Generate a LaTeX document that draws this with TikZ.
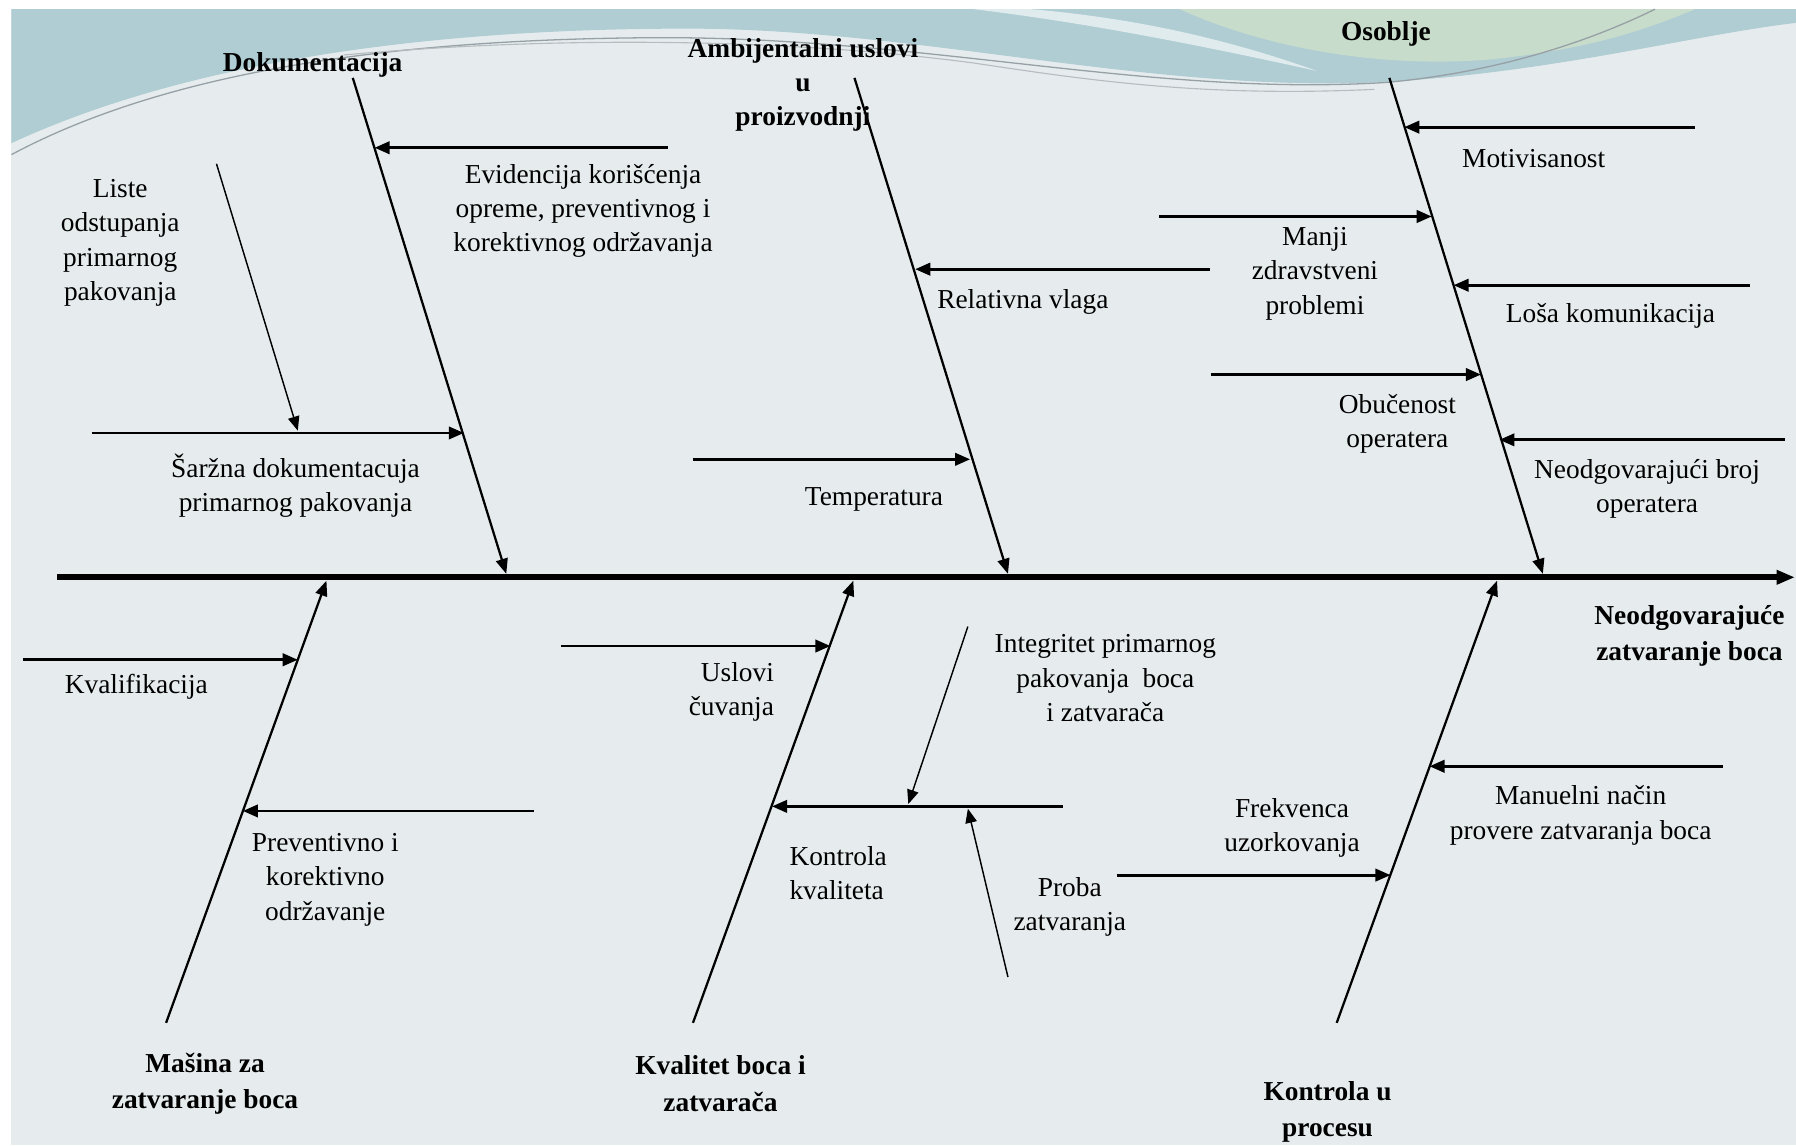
\documentclass[tikz,border=0pt]{standalone}
\usepackage{fontspec}
\setmainfont{Liberation Serif}
\usetikzlibrary{arrows.meta}
\definecolor{bgmain}{RGB}{230,236,238}
\definecolor{bgteal}{RGB}{176,205,211}
\definecolor{bggreen}{RGB}{200,220,203}
\definecolor{bgline}{RGB}{150,160,165}
\begin{document}
\begin{tikzpicture}[x=0.025cm,y=-0.025cm,
  spine/.style={line width=3.5pt,-{Triangle[length=0.4cm,width=0.3cm]}},
  bone/.style={line width=1.4pt},
  bonetip/.style={line width=1.4pt,-{Triangle[length=0.33cm,width=0.26cm]}},
  sub/.style={line width=1.8pt,-{Triangle[length=0.33cm,width=0.27cm]}},
  thinarr/.style={line width=0.9pt,-{Triangle[length=0.31cm,width=0.25cm]}},
  lbl/.style={font=\fontsize{17}{21.3}\selectfont,align=center,inner sep=0pt},
  head/.style={font=\bfseries\fontsize{17}{22.5}\selectfont,align=center,inner sep=0pt}]
% ---------- background ----------
\useasboundingbox (0,0) rectangle (1568,1000);
\fill[white] (0,0) rectangle (1568,1000);
\fill[bgmain] (10,8) rectangle (1568,1000);
\fill[bgteal] (10,8) -- (10,125) .. controls (150,60) and (350,25) .. (600,25)
  .. controls (800,25) and (1000,80) .. (1200,72)
  .. controls (1350,65) and (1480,30) .. (1568,20) -- (1568,8) -- cycle;
\fill[bggreen] (1030,8) .. controls (1100,40) and (1200,60) .. (1300,52)
  .. controls (1400,42) and (1450,20) .. (1480,8) -- cycle;
\fill[white,opacity=0.6] (850,8) .. controls (950,20) and (1050,40) .. (1150,62)
  .. controls (1060,30) and (980,15) .. (900,8) -- cycle;
\draw[bgline,line width=0.8pt] (10,135) .. controls (150,60) and (350,35) .. (560,33)
  .. controls (800,30) and (1000,85) .. (1210,72) .. controls (1320,62) and (1400,30) .. (1445,8);
\draw[bgline!70,line width=0.7pt] (300,48) .. controls (500,30) and (700,35) .. (850,55)
  .. controls (950,70) and (1050,85) .. (1200,78);
% ---------- coordinates ----------
\coordinate (sp0) at (50,504);
\coordinate (sp1) at (1567,504);
\coordinate (dokT) at (308,68);  \coordinate (dokB) at (442,501);
\coordinate (ambT) at (746,68);  \coordinate (ambB) at (880,501);
\coordinate (osoT) at (1213,68); \coordinate (osoB) at (1347,501);
\coordinate (masB) at (145,893); \coordinate (masT) at (285,507);
\coordinate (kvbB) at (605,893); \coordinate (kvbT) at (745,507);
\coordinate (kpB) at (1167,893); \coordinate (kpT) at (1307,507);
% sub-arrow ends
\coordinate (evS) at (583,129);  \coordinate (evE) at (327,129);
\coordinate (saS) at (80,378);   \coordinate (saE) at (405,378);
\coordinate (liS) at (189,143);  \coordinate (liE) at (260,376);
\coordinate (reS) at (1056,235); \coordinate (reE) at (799,235);
\coordinate (teS) at (605,401);  \coordinate (teE) at (847,401);
\coordinate (moS) at (1480,111); \coordinate (moE) at (1226,111);
\coordinate (mzS) at (1012,189); \coordinate (mzE) at (1250,189);
\coordinate (loS) at (1528,249); \coordinate (loE) at (1269,249);
\coordinate (obS) at (1057,327); \coordinate (obE) at (1293,327);
\coordinate (nbS) at (1558,384); \coordinate (nbE) at (1309,384);
\coordinate (kfS) at (20,576);   \coordinate (kfE) at (260,576);
\coordinate (prS) at (466,708);  \coordinate (prE) at (212,708);
\coordinate (usS) at (490,564);  \coordinate (usE) at (725,564);
\coordinate (kkS) at (928,704);  \coordinate (kkE) at (674,704);
\coordinate (inS) at (845,547);  \coordinate (inE) at (793,702);
\coordinate (pbS) at (880,853);  \coordinate (pbE) at (845,706);
\coordinate (maS) at (1504,669); \coordinate (maE) at (1248,669);
\coordinate (frS) at (975,764);  \coordinate (frE) at (1214,764);
% ---------- spine and bones ----------
\draw[spine] (sp0) -- (sp1);
\draw[bonetip] (dokT) -- (dokB);
\draw[bonetip] (ambT) -- (ambB);
\draw[bonetip] (osoT) -- (osoB);
\draw[bonetip] (masB) -- (masT);
\draw[bonetip] (kvbB) -- (kvbT);
\draw[bonetip] (kpB) -- (kpT);
% ---------- sub-arrows ----------
\draw[sub] (evS) -- (evE);
\draw[sub] (saS) -- (saE);
\draw[thinarr] (liS) -- (liE);
\draw[sub] (reS) -- (reE);
\draw[sub] (teS) -- (teE);
\draw[sub] (moS) -- (moE);
\draw[sub] (mzS) -- (mzE);
\draw[sub] (loS) -- (loE);
\draw[sub] (obS) -- (obE);
\draw[sub] (nbS) -- (nbE);
\draw[sub] (kfS) -- (kfE);
\draw[sub] (prS) -- (prE);
\draw[sub] (usS) -- (usE);
\draw[sub] (kkS) -- (kkE);
\draw[thinarr] (inS) -- (inE);
\draw[thinarr] (pbS) -- (pbE);
\draw[sub] (maS) -- (maE);
\draw[sub] (frS) -- (frE);
% ---------- labels ----------
\node[head] (nDok) at (273,57) {Dokumentacija};
\node[head,font=\bfseries\fontsize{17}{21}\selectfont] (nAmb) at (701,74) {Ambijentalni uslovi\\u\\proizvodnji};
\node[head] (nOso) at (1210,30) {Osoblje};
\node[head] (nNeo) at (1475,555) {Neodgovarajuće\\zatvaranje boca};
\node[head] (nMas) at (179,946) {Mašina za\\zatvaranje boca};
\node[head] (nKvb) at (629,946) {Kvalitet boca i\\zatvarača};
\node[head] (nKp) at (1159,971) {Kontrola u\\procesu};
\node[lbl] (nEvid) at (509,184) {Evidencija korišćenja\\opreme, preventivnog i\\korektivnog održavanja};
\node[lbl] (nListe) at (105,212) {Liste\\odstupanja\\primarnog\\pakovanja};
\node[lbl] (nSar) at (258,424) {Šaržna dokumentacuja\\primarnog pakovanja};
\node[lbl] (nRel) at (893,264) {Relativna vlaga};
\node[lbl] (nTemp) at (763,436) {Temperatura};
\node[lbl] (nMot) at (1339,138) {Motivisanost};
\node[lbl] (nManji) at (1148,239) {Manji\\zdravstveni\\problemi};
\node[lbl] (nLosa) at (1406,276) {Loša komunikacija};
\node[lbl] (nObu) at (1220,370) {Obučenost\\operatera};
\node[lbl] (nNbr) at (1438,427) {Neodgovarajući broj\\operatera};
\node[lbl] (nKval) at (119,600) {Kvalifikacija};
\node[lbl] (nPrev) at (284,768) {Preventivno i\\korektivno\\održavanje};
\node[lbl,align=right,anchor=east] (nUsl) at (676,604) {Uslovi\\čuvanja};
\node[lbl] (nInt) at (965,592) {Integritet primarnog\\pakovanja\ \ boca\\i zatvarača};
\node[lbl,align=left,anchor=west] (nKk) at (689,762) {Kontrola\\kvaliteta};
\node[lbl] (nProba) at (934,792) {Proba\\zatvaranja};
\node[lbl] (nFrek) at (1128,723) {Frekvenca\\uzorkovanja};
\node[lbl] (nMan) at (1380,712) {Manuelni način\\provere zatvaranja boca};
\end{tikzpicture}
\end{document}
